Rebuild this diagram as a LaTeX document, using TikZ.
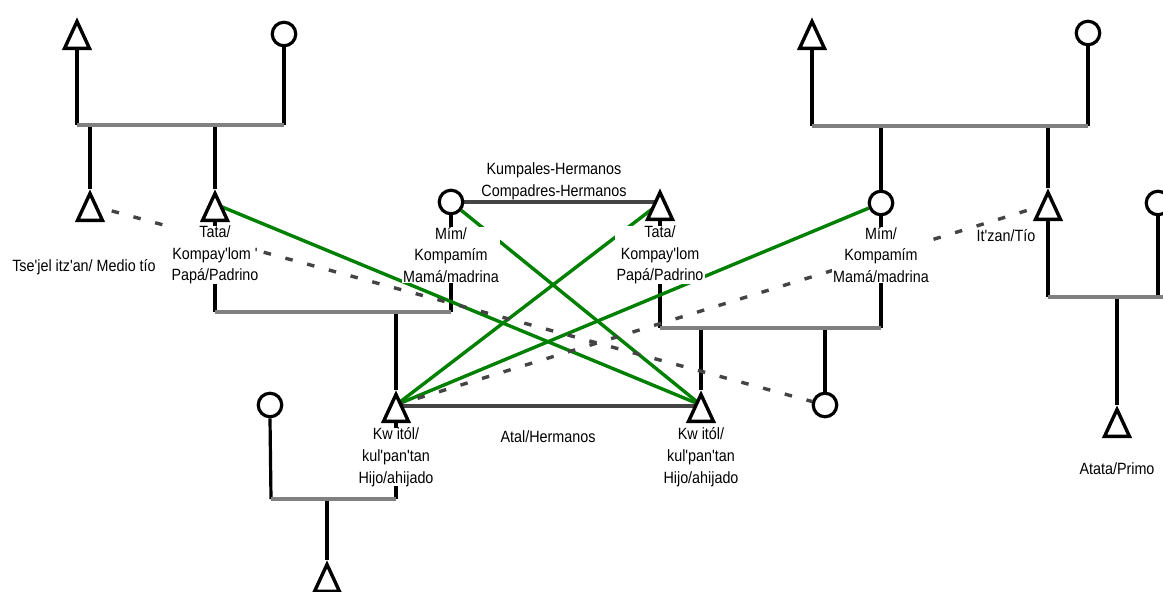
\documentclass[tikz,border=0pt]{standalone}
\usepackage{fontspec}
\newfontfamily\labfont{Liberation Sans}[FakeStretch=0.88]
\usetikzlibrary{shapes.geometric,backgrounds}
\definecolor{kgreen}{HTML}{008000}
\definecolor{kdark}{HTML}{444444}
\definecolor{kgray}{HTML}{808080}
\tikzset{
  tri/.style={draw, line width=3.4pt, fill=white, shape=isosceles triangle,
    shape border rotate=90, isosceles triangle stretches,
    minimum width=25pt, minimum height=27pt, inner sep=0pt, anchor=apex},
  fem/.style={draw, line width=3.2pt, fill=white, circle, minimum size=23.5pt, inner sep=0pt},
  kin/.style={line width=3.2pt, black},
  couple/.style={line width=3.6pt, kgray},
  sib/.style={line width=3.4pt, kdark},
  god/.style={line width=3.4pt, kgreen},
  half/.style={line width=3.4pt, kdark, dash pattern=on 7.5pt off 15pt},
  lbl/.style={font=\labfont\fontsize{16.3}{21.7}\selectfont, align=center, inner xsep=1.5pt, inner ysep=0pt},
  lblw/.style={lbl, fill=white}
}
\begin{document}
\begin{tikzpicture}[x=1pt,y=-1pt]
\useasboundingbox (0,0) rectangle (1163,592);
% symbols
\node[tri] (tA) at (77,17) {};
\node[fem] (cA) at (284,34) {};
\node[tri] (tB) at (90,189) {};
\node[tri] (tC) at (215,189) {};
\node[fem] (cB) at (451,202) {};
\node[tri] (tD) at (660,188) {};
\node[tri] (tE) at (396,390) {};
\node[tri] (tF) at (701,390) {};
\node[fem] (cC) at (270,405) {};
\node[tri] (tG) at (327,560) {};
\node[fem] (cD) at (825,405) {};
\node[tri] (tH) at (812,17) {};
\node[fem] (cE) at (1088,33) {};
\node[fem] (cF) at (881,203) {};
\node[tri] (tI) at (1048,188) {};
\node[fem] (cG) at (1158,203) {};
\node[tri] (tJ) at (1117,405) {};
% junction points
\coordinate (l1a) at (77,125);  \coordinate (l1b) at (284,125);
\coordinate (l2a) at (215,312); \coordinate (l2b) at (451,312);
\coordinate (l3a) at (660,328); \coordinate (l3b) at (881,328);
\coordinate (l4a) at (812,126); \coordinate (l4b) at (1088,126);
\coordinate (l5a) at (1048,297); \coordinate (l5b) at (1165,297);
\coordinate (l6a) at (271,499); \coordinate (l6b) at (396,499);
% labels
\node[lbl] (tse) at (84,267) {Tse'jel itz'an/ Medio tío};
\node[lblw] (lC) at (215,255) {Tata/\\Kompay'lom '\\Papá/Padrino};
\node[lblw] (lB) at (451,255) {Mím/\\Kompamím\\Mamá/madrina};
\node[lbl] (kum) at (554,181) {Kumpales-Hermanos\\Compadres-Hermanos};
\node[lblw] (lD) at (660,255) {Tata/\\Kompay'lom\\Papá/Padrino};
\node[lblw] (lF) at (881,255) {Mím/\\Kompamím\\Mamá/madrina};
\node[lbl] (itz) at (1006,236) {It'zan/Tío};
\node[lblw] (lE) at (396,457) {Kw itól/\\kul'pan'tan\\Hijo/ahijado};
\node[lblw] (lF2) at (701,457) {Kw itól/\\kul'pan'tan\\Hijo/ahijado};
\node[lbl] (atal) at (548,437) {Atal/Hermanos};
\node[lbl] (prim) at (1117,469) {Atata/Primo};
\begin{pgfonlayer}{background}
% family lines
\draw[kin] (tA.lower side) -- (l1a);
\draw[kin] (cA.south) -- (l1b);
\draw[kin] (tB.apex) -- (tB.apex |- l1a);
\draw[kin] (tC.apex) -- (tC.apex |- l1a);
\draw[kin] (tC.lower side) -- (l2a);
\draw[kin] (cB.south) -- (l2b);
\draw[kin] (tE.apex) -- (tE.apex |- l2a);
\draw[kin] (tD.lower side) -- (l3a);
\draw[kin] (cF.south) -- (l3b);
\draw[kin] (tF.apex) -- (tF.apex |- l3a);
\draw[kin] (cD.north) -- (cD.north |- l3a);
\draw[kin] (tH.lower side) -- (l4a);
\draw[kin] (cE.south) -- (l4b);
\draw[kin] (cF.north) -- (cF.north |- l4a);
\draw[kin] (tI.apex) -- (tI.apex |- l4a);
\draw[kin] (tI.lower side) -- (l5a);
\draw[kin] (cG.south) -- (cG.south |- l5a);
\draw[kin] (tJ.apex) -- (tJ.apex |- l5a);
\draw[kin] (cC.south) -- (l6a);
\draw[kin] (tE.lower side) -- (l6b);
\draw[kin] (tG.apex) -- (tG.apex |- l6a);
\draw[couple] (l1a) -- (l1b);
\draw[couple] (l2a) -- (l2b);
\draw[couple] (l3a) -- (l3b);
\draw[couple] (l4a) -- (l4b);
\draw[couple] (l5a) -- (l5b);
\draw[couple] (l6a) -- (l6b);
% siblings
\draw[sib] (cB.east) -- (cB.east -| tD.apex);
\draw[sib] ([yshift=-16pt]tE.apex) -- ([yshift=-16pt]tF.apex);
% godparent links
\draw[god] ([yshift=-15pt]tC.apex) -- ([yshift=-15pt]tF.apex);
\draw[god] (cB) -- ([yshift=-15pt]tF.apex);
\draw[god] ([yshift=-15pt]tD.apex) -- ([yshift=-15pt]tE.apex);
\draw[god] (cF) -- ([yshift=-15pt]tE.apex);
% half-kin dashed
\draw[half] ([yshift=-16pt]tB.apex) -- (cD);
\draw[half] ([yshift=-15pt]tE.apex) -- ([yshift=-16pt]tI.apex);
\end{pgfonlayer}
\end{tikzpicture}
\end{document}
